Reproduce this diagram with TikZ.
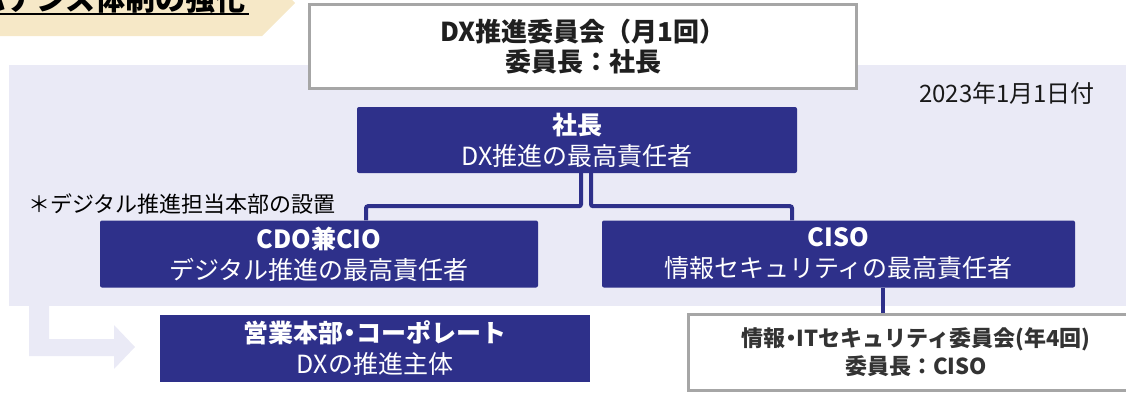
\documentclass[tikz,border=0pt]{standalone}
\usepackage{fontspec}
\setmainfont{Noto Sans CJK JP}
\usepackage{tikz}
\usetikzlibrary{shapes,arrows,backgrounds,positioning,calc}

\definecolor{dxnavy}{RGB}{46,48,138}
\definecolor{lavender}{RGB}{234,234,246}
\definecolor{beige}{RGB}{246,232,199}
\definecolor{frame}{RGB}{166,166,166}
\newcommand{\nakaten}{{\addfontfeature{RawFeature=+palt}・}}

\begin{document}
\begin{tikzpicture}[x=1pt,y=-1pt,node distance=100pt,auto,
	navybox/.style={fill=dxnavy, text=white, rounded corners=2pt, align=center, inner sep=0pt, minimum height=67pt, font=\fontsize{25}{31}\selectfont},
	graybox/.style={draw=frame, line width=3pt, fill=white, align=center, inner sep=0pt},
	conn/.style={draw=dxnavy, line width=4pt, rounded corners=2pt}]
	\useasboundingbox (0,0) rectangle (1126,394);
	\fill[beige] (0,-30) -- (262,-30) -- (295,3) -- (262,36) -- (0,36) -- cycle;
	\fill[lavender] (9,65) rectangle (1126,306);
	\fill[lavender] (29,300) -- (29,356) -- (114,356) -- (114,369) -- (135,347) -- (114,325) -- (114,339) -- (49,339) -- (49,300) -- cycle;
	\node (title) [anchor=base east, inner sep=0pt, font=\fontsize{30}{36}\selectfont\bfseries] at (246,10) {ガバナンス体制の強化};
	\draw[line width=2pt] ([yshift=-4pt]title.base west) -- ([yshift=-4pt,xshift=3pt]title.base east);
	\node[graybox, minimum width=547pt, minimum height=84pt, text=black!88, font=\fontsize{26}{30}\selectfont\bfseries] (iinkai) at (583,46.5) {DX推進委員会（月1回）\\委員長：社長};
	\node[navybox, minimum width=440pt, minimum height=66pt] (shacho) [below of=iinkai, node distance=93.5pt, xshift=-6pt] {\textbf{社長}\\DX推進の最高責任者};
	\node[navybox, minimum width=438pt] (cdo) [below of=shacho, node distance=114pt, xshift=-258pt] {\textbf{CDO兼CIO}\\デジタル推進の最高責任者};
	\node[navybox, minimum width=473pt] (ciso) [right of=cdo, node distance=519.5pt] {\textbf{CISO}\\情報セキュリティの最高責任者};
	\node[navybox, sharp corners, minimum width=430pt] (eigyo) [below of=cdo, node distance=94pt, xshift=56pt] {\textbf{営業本部\nakaten コーポレート}\\DXの推進主体};
	\node[graybox, minimum width=456pt, minimum height=76pt, text=black!80, font=\fontsize{22}{28}\selectfont\bfseries] (joho) [below of=ciso, node distance=98.5pt, xshift=77.5pt] {情報\nakaten ITセキュリティ委員会(年4回)\\委員長：CISO};
	\node (date) [font=\fontsize{24}{28}\selectfont, text=black!90] at (1007,93) {2023年1月1日付};
	\node (note) [anchor=west, inner sep=0pt, font=\fontsize{22}{26}\selectfont] at (28,204) {＊デジタル推進担当本部の設置};

	\draw[conn] ([xshift=4pt]shacho.south) -- ++(0,33) -| ([xshift=47pt]cdo.north);
	\draw[conn] ([xshift=14pt]shacho.south) -- ++(0,33) -| ([xshift=-46.5pt]ciso.north);
	\draw[conn] ([xshift=44.5pt]ciso.south) -- ([xshift=-33pt]joho.north);
\end{tikzpicture}
\end{document}
